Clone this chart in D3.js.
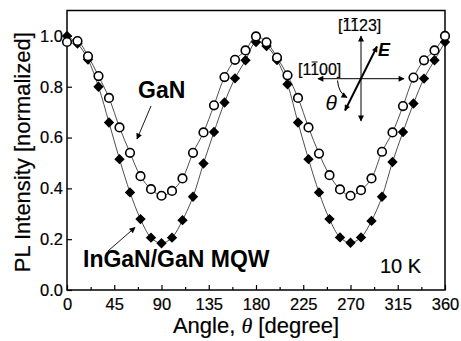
<!DOCTYPE html>
<html>
<head>
<meta charset="utf-8">
<script src="https://cdn.jsdelivr.net/npm/d3@7"></script>
<style>
  body { margin: 0; background: #fff; }
  svg text { font-family: "Liberation Sans", Arial, sans-serif; fill: #000; }
</style>
</head>
<body>
<svg id="chart" width="461" height="341"></svg>
<script>
// data
const angles = [0, 10, 20, 30, 40, 50, 60, 70, 80, 90, 100, 110, 120, 130, 140, 150, 160, 170, 180,
  190, 200, 210, 220, 230, 240, 250, 260, 270, 280, 290, 300, 310, 320, 330, 340, 350, 360];
const ganValues = [0.976, 0.98, 0.92, 0.842, 0.756, 0.64, 0.54, 0.448, 0.397, 0.371, 0.39, 0.439, 0.54,
  0.62, 0.727, 0.838, 0.906, 0.943, 0.998, 0.975, 0.915, 0.845, 0.756, 0.64, 0.537, 0.452, 0.396,
  0.371, 0.393, 0.439, 0.544, 0.62, 0.724, 0.836, 0.904, 0.943, 1.0];
const mqwValues = [1.0, 0.97, 0.907, 0.80, 0.659, 0.515, 0.384, 0.279, 0.206, 0.184, 0.206, 0.275, 0.367,
  0.498, 0.622, 0.738, 0.833, 0.904, 0.976, 0.96, 0.905, 0.81, 0.659, 0.515, 0.384, 0.279, 0.207,
  0.186, 0.207, 0.272, 0.367, 0.504, 0.622, 0.734, 0.832, 0.904, 0.976];
const xTicks = [0, 45, 90, 135, 180, 225, 270, 315, 360];
const xMinorTicks = [22.5, 67.5, 112.5, 157.5, 202.5, 247.5, 292.5, 337.5];
const yTicks = [0.0, 0.2, 0.4, 0.6, 0.8, 1.0];

const svg = d3.select("#chart");
const plotL = 67, plotR = 445, plotT = 10.5, plotB = 290;

const x = d3.scaleLinear().domain([0, 360]).range([plotL, plotR]);
const y = d3.scaleLinear().domain([0, 1.1]).range([plotB, plotT]);

// arrow head marker
const defs = svg.append("defs");
defs.append("marker")
  .attr("id", "head")
  .attr("viewBox", "0 0 10 10")
  .attr("refX", 9).attr("refY", 5)
  .attr("markerUnits", "userSpaceOnUse")
  .attr("markerWidth", 8).attr("markerHeight", 6)
  .attr("orient", "auto-start-reverse")
  .append("path").attr("d", "M0,0L10,5L0,10z").attr("fill", "#000");

// axes (ticks inward)
svg.append("g")
  .attr("transform", `translate(0,${plotB})`)
  .call(d3.axisBottom(x).tickValues(xTicks).tickFormat(d3.format("d"))
    .tickSizeInner(-5).tickSizeOuter(0).tickPadding(8));
svg.append("g")
  .attr("transform", `translate(0,${plotB})`)
  .call(d3.axisBottom(x).tickValues(xMinorTicks).tickFormat("")
    .tickSizeInner(-3).tickSizeOuter(0));
svg.append("g")
  .attr("transform", `translate(${plotL},0)`)
  .call(d3.axisLeft(y).tickValues(yTicks).tickFormat(d3.format(".1f"))
    .tickSizeInner(-5).tickSizeOuter(0).tickPadding(4));

svg.selectAll(".domain").remove();
svg.selectAll(".tick line").attr("stroke", "#000").attr("stroke-width", 1.2);
svg.selectAll(".tick text").attr("font-size", 16.5)
  .attr("font-family", "Liberation Sans, Arial, sans-serif")
  .attr("stroke", "#000").attr("stroke-width", 0.2);

// frame
svg.append("rect")
  .attr("x", plotL).attr("y", plotT)
  .attr("width", plotR - plotL).attr("height", plotB - plotT)
  .attr("fill", "none").attr("stroke", "#000").attr("stroke-width", 1.5);

// lines through points
const line = d3.line().x((d, i) => x(angles[i])).y(d => y(d)).curve(d3.curveCatmullRom);
[mqwValues, ganValues].forEach(vals => {
  svg.append("path").attr("d", line(vals))
    .attr("fill", "none").attr("stroke", "#222").attr("stroke-width", 0.8);
});

// diamonds (InGaN/GaN MQW)
const diamond = d3.symbol().type(d3.symbolSquare).size(54);
svg.append("g").selectAll("path")
  .data(mqwValues)
  .join("path")
  .attr("d", diamond)
  .attr("transform", (d, i) => `translate(${x(angles[i])},${y(d)}) rotate(45)`)
  .attr("fill", "#000");

// open circles (GaN)
svg.append("g").selectAll("circle")
  .data(ganValues)
  .join("circle")
  .attr("cx", (d, i) => x(angles[i]))
  .attr("cy", d => y(d))
  .attr("r", 4.3)
  .attr("fill", "#fff").attr("stroke", "#000").attr("stroke-width", 1.6);

// axis titles
svg.append("text")
  .attr("x", (plotL + plotR) / 2).attr("y", 333)
  .attr("text-anchor", "middle").attr("font-size", 22)
  .attr("stroke", "#000").attr("stroke-width", 0.2)
  .call(t => {
    t.append("tspan").text("Angle, ");
    t.append("tspan").text("θ").attr("font-style", "italic").attr("font-family", "Liberation Serif, Times New Roman, serif");
    t.append("tspan").text(" [degree]");
  });
svg.append("text")
  .attr("transform", `translate(30,${(plotT + plotB) / 2 + 2}) rotate(-90)`)
  .attr("text-anchor", "middle").attr("font-size", 22)
  .attr("stroke", "#000").attr("stroke-width", 0.2)
  .text("PL Intensity [normalized]");

// annotations
svg.append("text").attr("x", 138).attr("y", 98)
  .attr("font-size", 23).attr("font-weight", "bold").text("GaN");
svg.append("line").attr("x1", 151).attr("y1", 106).attr("x2", 137).attr("y2", 139)
  .attr("stroke", "#000").attr("stroke-width", 0.9).attr("marker-end", "url(#head)");

svg.append("text").attr("x", 83).attr("y", 267)
  .attr("font-size", 23).attr("font-weight", "bold").text("InGaN/GaN MQW");
svg.append("line").attr("x1", 108).attr("y1", 251).attr("x2", 135).attr("y2", 227.5)
  .attr("stroke", "#000").attr("stroke-width", 0.9).attr("marker-end", "url(#head)");

svg.append("text").attr("x", 380).attr("y", 273)
  .attr("font-size", 20).attr("stroke", "#000").attr("stroke-width", 0.2).text("10 K");

// inset: crystal directions
const cx = 361, cy = 78.7;
const inset = svg.append("g");
inset.append("line").attr("x1", cx).attr("y1", 36).attr("x2", cx).attr("y2", 121)
  .attr("stroke", "#000").attr("stroke-width", 1)
  .attr("marker-start", "url(#head)").attr("marker-end", "url(#head)");
inset.append("line").attr("x1", 318).attr("y1", cy).attr("x2", 404).attr("y2", cy)
  .attr("stroke", "#000").attr("stroke-width", 1)
  .attr("marker-start", "url(#head)").attr("marker-end", "url(#head)");
inset.append("line").attr("x1", 345).attr("y1", 110.5).attr("x2", 377).attr("y2", 46.5)
  .attr("stroke", "#000").attr("stroke-width", 2)
  .attr("marker-start", "url(#head)").attr("marker-end", "url(#head)");
inset.append("path").attr("d", "M337.5,80.5 Q338.5,93 347,97.5")
  .attr("fill", "none").attr("stroke", "#000").attr("stroke-width", 1)
  .attr("marker-end", "url(#head)");

inset.append("text").attr("x", 378).attr("y", 55.7)
  .attr("font-size", 18).attr("font-weight", "bold").attr("font-style", "italic").text("E");
inset.append("text").attr("x", 325.5).attr("y", 109.5)
  .attr("font-size", 21).attr("font-style", "italic")
  .attr("font-family", "Liberation Serif, Times New Roman, serif").text("θ");

// direction labels with overbars on selected digits
function dirLabel(xPos, yPos, str, barred) {
  const t = inset.append("text").attr("x", xPos).attr("y", yPos).attr("font-size", 16)
    .attr("stroke", "#000").attr("stroke-width", 0.2).text(str);
  const node = t.node();
  barred.forEach(i => {
    const b = node.getExtentOfChar(i);
    inset.append("line")
      .attr("x1", b.x + 1.5).attr("x2", b.x + b.width - 1.5)
      .attr("y1", b.y + 1.5).attr("y2", b.y + 1.5)
      .attr("stroke", "#000").attr("stroke-width", 1);
  });
}
dirLabel(338, 31, "[1123]", [1, 2]);
dirLabel(298, 74.5, "[1100]", [2]);
</script>
</body>
</html>
